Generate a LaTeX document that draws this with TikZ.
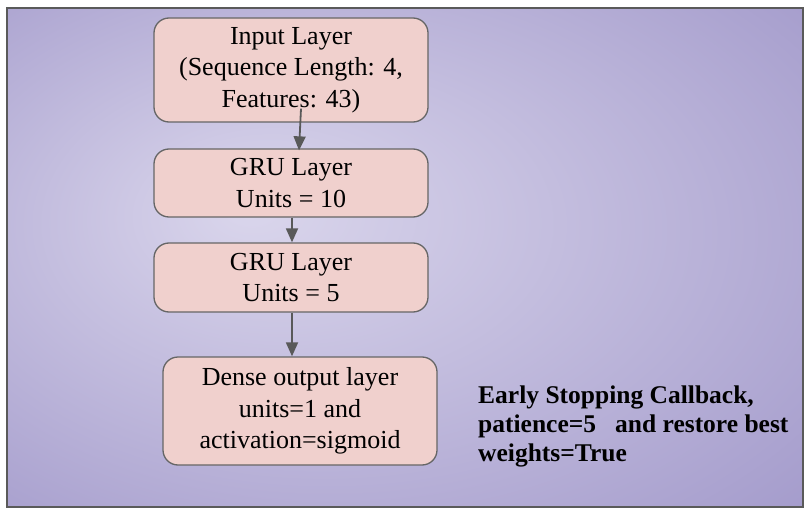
\documentclass[tikz,border=0pt]{standalone}
\usepackage{fontspec}
\setmainfont{Liberation Serif}
\usetikzlibrary{arrows.meta,calc}
\definecolor{bgin}{HTML}{DAD6EC}
\definecolor{bgout}{HTML}{948AC2}
\definecolor{boxfill}{HTML}{F0D0CD}
\definecolor{boxline}{HTML}{666666}
\definecolor{arrowc}{HTML}{595959}
\definecolor{frame}{HTML}{5A5A5A}
\pgfdeclareradialshading{bgshade}{\pgfpoint{-10bp}{5bp}}{color(0bp)=(bgin); color(50bp)=(bgout)}
\begin{document}
\begin{tikzpicture}[x=1pt,y=-1pt,
  layer/.style={draw=boxline, line width=1.3pt, fill=boxfill, rounded corners=15pt,
    minimum width=274pt, inner sep=0pt, align=center,
    font=\fontsize{26}{31.7}\selectfont},
  conn/.style={draw=arrowc, line width=1.8pt, -{Triangle[width=12pt,length=14pt]}}]
\useasboundingbox (0,0) rectangle (806,516);
\fill[white] (0,0) rectangle (806,516);
\path[shading=bgshade] (7,8) rectangle (803,507);
\draw[draw=frame, line width=2pt] (7,8) rectangle (803,507);

\node[layer, minimum height=104pt] (b1) at (291,70) {Input Layer\\(Sequence Length: 4,\\Features: 43)};
\node[layer, minimum height=68pt] (b2) at (291,183) {GRU Layer\\Units = 10};
\node[layer, minimum height=69pt] (b3) at (291,277.5) {GRU Layer\\Units = 5};
\node[layer, minimum height=108pt] (b4) at (300,411) {Dense output layer\\units=1 and\\activation=sigmoid};

\node[anchor=west, align=left, inner sep=0pt, font=\bfseries\fontsize{25.5}{29}\selectfont] (cb) at (478,426)
  {Early Stopping Callback,\\patience=5\hspace{19pt}and restore best\\weights=True};

\coordinate (s1) at ($(b1.south)+(10,-14)$);
\draw[conn] (s1) -- ($(b2.north)+(8,2)$);
\coordinate (s2) at ($(b2.south)+(1,0)$);
\draw[conn] (s2) -- (s2 |- b3.north);
\coordinate (s3) at ($(b3.south)+(1,0)$);
\draw[conn] (s3) -- (s3 |- b4.north);
\end{tikzpicture}
\end{document}
